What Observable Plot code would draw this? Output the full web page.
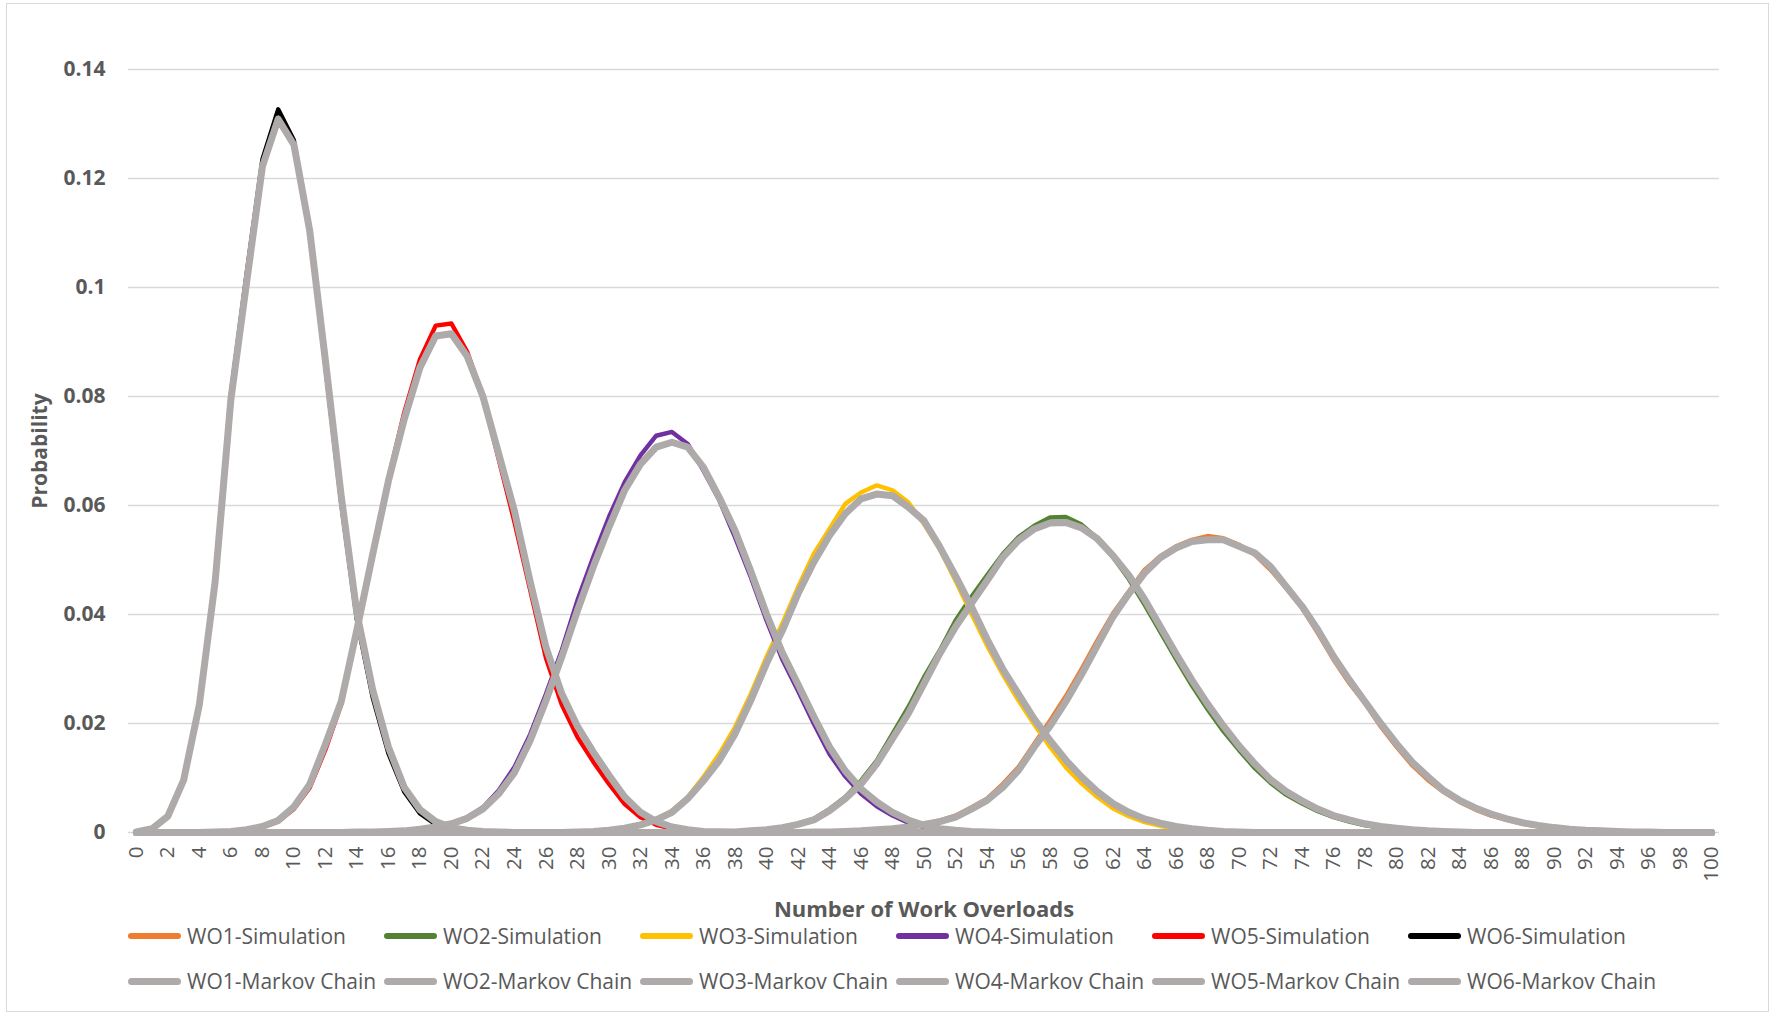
<!DOCTYPE html>
<html>
<head>
<meta charset="utf-8">
<script src="https://cdn.jsdelivr.net/npm/d3@7"></script>
<script src="https://cdn.jsdelivr.net/npm/@observablehq/plot@0.6"></script>
<style>
  html, body { margin: 0; padding: 0; background: #fff; }
  #chart { position: relative; width: 1771px; height: 1014px; overflow: hidden;
           font-family: 'Open Sans', sans-serif; color: #595959; }
  #frame { position: absolute; left: 6px; top: 3px; width: 1763px; height: 1009px;
           border: 1.5px solid #d9d9d9; box-sizing: border-box; }
  #plot { position: absolute; left: 0; top: 0; }
  .legend-item { position: absolute; display: flex; align-items: center; height: 30px;
                 font-size: 21px; white-space: nowrap; color: #595959; }
  .swatch { width: 53px; border-radius: 4px; margin-right: 6px; flex: none; }
</style>
</head>
<body>
<div id="chart">
  <div id="frame"></div>
  <div id="plot"></div>
  <div id="legend"></div>
</div>
<script>
// Number of work overloads (categories 0..100)
const xValues = [
  0,1,2,3,4,5,6,7,8,9,10,11,12,13,14,15,16,17,18,19,20,21,22,23,24,25,26,27,28,29,
  30,31,32,33,34,35,36,37,38,39,40,41,42,43,44,45,46,47,48,49,50,51,52,53,54,55,56,57,58,59,
  60,61,62,63,64,65,66,67,68,69,70,71,72,73,74,75,76,77,78,79,80,81,82,83,84,85,86,87,88,89,
  90,91,92,93,94,95,96,97,98,99,100
];
const xTicks = [0,2,4,6,8,10,12,14,16,18,20,22,24,26,28,30,32,34,36,38,40,42,44,46,48,50,
  52,54,56,58,60,62,64,66,68,70,72,74,76,78,80,82,84,86,88,90,92,94,96,98,100];
const yTicks = [0, 0.02, 0.04, 0.06, 0.08, 0.1, 0.12, 0.14];

// Probability per number of work overloads, ten values per row
const wo1Sim = [
  0,0,0,0,0,0,0,0,0,0,
  0,0,0,0,0,0,0,0,0,0,
  0,0,0,0,0,0,0,0,0,0,
  0,0,0,0,0,0,0,0,0,0,
  0,0,0,0.0001,0.0001,0.0002,0.0003,0.0005,0.0007,0.0011,
  0.0016,0.0022,0.0031,0.0046,0.0062,0.0089,0.012,0.0163,0.0205,0.025,
  0.03,0.0352,0.0402,0.0442,0.0482,0.0507,0.0525,0.0537,0.0544,0.054,
  0.0528,0.051,0.0482,0.0448,0.0412,0.0366,0.0317,0.0274,0.0237,0.0194,
  0.0157,0.0123,0.0096,0.0074,0.0056,0.0042,0.0031,0.0023,0.0016,0.0011,
  0.0008,0.0005,0.0004,0.0003,0.0002,0.0001,0.0001,0,0,0,
  0
];
const wo1Markov = [
  0,0,0,0,0,0,0,0,0,0,
  0,0,0,0,0,0,0,0,0,0,
  0,0,0,0,0,0,0,0,0,0,
  0,0,0,0,0,0,0,0,0,0,
  0,0,0,0.0001,0.0001,0.0002,0.0003,0.0005,0.0007,0.001,
  0.0015,0.002,0.0028,0.0043,0.0059,0.0083,0.0114,0.0157,0.0195,0.024,
  0.029,0.0343,0.0396,0.0438,0.0476,0.0504,0.0522,0.0534,0.0537,0.0537,
  0.0525,0.0513,0.0488,0.0451,0.0415,0.0372,0.0323,0.028,0.024,0.02,
  0.0163,0.0129,0.0102,0.0077,0.0059,0.0045,0.0034,0.0025,0.0018,0.0013,
  0.0009,0.0006,0.0004,0.0003,0.0002,0.0001,0.0001,0,0,0,
  0
];
const wo2Sim = [
  0,0,0,0,0,0,0,0,0,0,
  0,0,0,0,0,0,0,0,0,0,
  0,0,0,0,0,0,0,0,0,0,
  0,0,0,0,0,0,0,0.0001,0.0001,0.0003,
  0.0005,0.0009,0.0016,0.0025,0.0043,0.0065,0.0095,0.0132,0.0181,0.023,
  0.0285,0.0334,0.0389,0.0432,0.0472,0.0511,0.0542,0.0563,0.0578,0.0579,
  0.0565,0.054,0.0505,0.0465,0.0418,0.0368,0.0318,0.027,0.0226,0.0186,
  0.0151,0.0118,0.0091,0.0069,0.0053,0.0039,0.0028,0.002,0.0013,0.0009,
  0.0006,0.0004,0.0003,0.0002,0.0001,0,0,0,0,0,
  0,0,0,0,0,0,0,0,0,0,
  0
];
const wo2Markov = [
  0,0,0,0,0,0,0,0,0,0,
  0,0,0,0,0,0,0,0,0,0,
  0,0,0,0,0,0,0,0,0,0,
  0,0,0,0,0,0,0,0.0001,0.0001,0.0003,
  0.0005,0.0009,0.0015,0.0023,0.004,0.0062,0.0089,0.0126,0.0172,0.0218,
  0.0273,0.0328,0.0377,0.042,0.0462,0.0505,0.0536,0.0557,0.0568,0.0569,
  0.0559,0.0539,0.0508,0.0472,0.0428,0.0378,0.0328,0.028,0.0236,0.0196,
  0.0159,0.0126,0.0097,0.0075,0.0058,0.0043,0.0031,0.0023,0.0016,0.0011,
  0.0008,0.0005,0.0003,0.0002,0.0001,0,0,0,0,0,
  0,0,0,0,0,0,0,0,0,0,
  0
];
const wo3Sim = [
  0,0,0,0,0,0,0,0,0,0,
  0,0,0,0,0,0,0,0,0,0,
  0,0,0,0,0,0,0,0,0.0001,0.0002,
  0.0004,0.0008,0.0014,0.0024,0.004,0.0065,0.0102,0.0144,0.0193,0.0254,
  0.0322,0.0383,0.045,0.0511,0.0557,0.0603,0.0624,0.0637,0.0628,0.0606,
  0.0566,0.052,0.0462,0.0402,0.0343,0.029,0.0242,0.0198,0.0157,0.012,
  0.009,0.0065,0.0044,0.003,0.0019,0.0012,0.0007,0.0005,0.0003,0.0002,
  0.0001,0,0,0,0,0,0,0,0,0,
  0,0,0,0,0,0,0,0,0,0,
  0,0,0,0,0,0,0,0,0,0,
  0
];
const wo3Markov = [
  0,0,0,0,0,0,0,0,0,0,
  0,0,0,0,0,0,0,0,0,0,
  0,0,0,0,0,0,0,0,0.0001,0.0002,
  0.0004,0.0008,0.0014,0.0023,0.0037,0.0062,0.0095,0.0132,0.0181,0.0242,
  0.031,0.037,0.0438,0.0496,0.0545,0.0585,0.0612,0.0621,0.0618,0.0597,
  0.0572,0.0524,0.0471,0.0415,0.0355,0.03,0.0254,0.0208,0.0169,0.0133,
  0.0102,0.0075,0.0053,0.0037,0.0025,0.0017,0.0011,0.0007,0.0004,0.0002,
  0.0001,0,0,0,0,0,0,0,0,0,
  0,0,0,0,0,0,0,0,0,0,
  0,0,0,0,0,0,0,0,0,0,
  0
];
const wo4Sim = [
  0,0,0,0,0,0,0,0,0,0,
  0,0,0,0,0.0001,0.0001,0.0002,0.0003,0.0006,0.001,
  0.0017,0.0028,0.0046,0.0077,0.012,0.018,0.0254,0.0334,0.0426,0.0505,
  0.0579,0.0643,0.0692,0.0728,0.0735,0.0713,0.0664,0.061,0.0542,0.0469,
  0.0389,0.0318,0.026,0.02,0.0144,0.0103,0.0071,0.0048,0.0031,0.0018,
  0.001,0.0006,0.0003,0.0001,0,0,0,0,0,0,
  0,0,0,0,0,0,0,0,0,0,
  0,0,0,0,0,0,0,0,0,0,
  0,0,0,0,0,0,0,0,0,0,
  0,0,0,0,0,0,0,0,0,0,
  0
];
const wo4Markov = [
  0,0,0,0,0,0,0,0,0,0,
  0,0,0,0,0.0001,0.0001,0.0002,0.0003,0.0006,0.001,
  0.0016,0.0026,0.0043,0.0071,0.011,0.0169,0.0242,0.0322,0.0407,0.0487,
  0.056,0.0628,0.0676,0.0707,0.0716,0.0707,0.067,0.0615,0.0554,0.048,
  0.0401,0.033,0.0272,0.0213,0.0157,0.0113,0.008,0.0056,0.0037,0.0023,
  0.0013,0.0007,0.0004,0.0002,0.0001,0,0,0,0,0,
  0,0,0,0,0,0,0,0,0,0,
  0,0,0,0,0,0,0,0,0,0,
  0,0,0,0,0,0,0,0,0,0,
  0,0,0,0,0,0,0,0,0,0,
  0
];
const wo5Sim = [
  0,0,0,0,0,0.0001,0.0002,0.0004,0.001,0.002,
  0.0043,0.0082,0.0152,0.0235,0.0375,0.0515,0.065,0.077,0.0868,0.093,
  0.0934,0.0882,0.08,0.0685,0.057,0.0445,0.032,0.0235,0.0175,0.013,
  0.0089,0.0052,0.0028,0.0014,0.0007,0.0003,0.0001,0,0,0,
  0,0,0,0,0,0,0,0,0,0,
  0,0,0,0,0,0,0,0,0,0,
  0,0,0,0,0,0,0,0,0,0,
  0,0,0,0,0,0,0,0,0,0,
  0,0,0,0,0,0,0,0,0,0,
  0,0,0,0,0,0,0,0,0,0,
  0
];
const wo5Markov = [
  0,0,0,0,0,0.0001,0.0002,0.0005,0.0011,0.0022,
  0.0047,0.0088,0.0162,0.024,0.0372,0.051,0.0645,0.0758,0.0853,0.0911,
  0.0915,0.0874,0.08,0.0695,0.059,0.046,0.034,0.0255,0.0195,0.0148,
  0.0105,0.0065,0.0037,0.002,0.001,0.0005,0.0002,0.0001,0,0,
  0,0,0,0,0,0,0,0,0,0,
  0,0,0,0,0,0,0,0,0,0,
  0,0,0,0,0,0,0,0,0,0,
  0,0,0,0,0,0,0,0,0,0,
  0,0,0,0,0,0,0,0,0,0,
  0,0,0,0,0,0,0,0,0,0,
  0
];
const wo6Sim = [
  0.0001,0.0007,0.003,0.0095,0.0232,0.0458,0.0805,0.1025,0.1235,0.1327,
  0.127,0.11,0.0855,0.0605,0.039,0.0248,0.0145,0.0075,0.0035,0.0015,
  0.0006,0.0002,0.0001,0,0,0,0,0,0,0,
  0,0,0,0,0,0,0,0,0,0,
  0,0,0,0,0,0,0,0,0,0,
  0,0,0,0,0,0,0,0,0,0,
  0,0,0,0,0,0,0,0,0,0,
  0,0,0,0,0,0,0,0,0,0,
  0,0,0,0,0,0,0,0,0,0,
  0,0,0,0,0,0,0,0,0,0,
  0
];
const wo6Markov = [
  0.0001,0.0007,0.003,0.0096,0.0235,0.046,0.0795,0.101,0.1222,0.1309,
  0.1262,0.1105,0.0866,0.0618,0.0402,0.0262,0.0157,0.0083,0.0042,0.002,
  0.0009,0.0004,0.0002,0.0001,0,0,0,0,0,0,
  0,0,0,0,0,0,0,0,0,0,
  0,0,0,0,0,0,0,0,0,0,
  0,0,0,0,0,0,0,0,0,0,
  0,0,0,0,0,0,0,0,0,0,
  0,0,0,0,0,0,0,0,0,0,
  0,0,0,0,0,0,0,0,0,0,
  0,0,0,0,0,0,0,0,0,0,
  0
];

const simNames = ["WO1-Simulation","WO2-Simulation","WO3-Simulation","WO4-Simulation","WO5-Simulation","WO6-Simulation"];
const markovNames = ["WO1-Markov Chain","WO2-Markov Chain","WO3-Markov Chain","WO4-Markov Chain","WO5-Markov Chain","WO6-Markov Chain"];
const simColors = ["#ED7D31","#548235","#FFC000","#7030A0","#FF0000","#000000"];
const markovColor = "#AEAAAA";

const simSeries = [wo1Sim, wo2Sim, wo3Sim, wo4Sim, wo5Sim, wo6Sim];
const markovSeries = [wo1Markov, wo2Markov, wo3Markov, wo4Markov, wo5Markov, wo6Markov];

const toRows = (values, name) => values.map((v, i) => ({series: name, x: xValues[i], y: v}));

const simMarks = simSeries.map((vals, k) =>
  Plot.line(toRows(vals, simNames[k]), {x: "x", y: "y", stroke: simColors[k], strokeWidth: 4.4, strokeLinejoin: "round"}));
const markovMarks = markovSeries.map((vals, k) =>
  Plot.line(toRows(vals, markovNames[k]), {x: "x", y: "y", stroke: markovColor, strokeWidth: 7, strokeLinejoin: "round"}));

const W = 1771, H = 920;
const chart = Plot.plot({
  width: W,
  height: H,
  marginLeft: 128,
  marginRight: 52,
  marginTop: 69,
  marginBottom: 88,
  style: {fontFamily: "'Open Sans', sans-serif", color: "#595959", background: "transparent", overflow: "visible"},
  x: {type: "linear", domain: [-0.5, 100.5]},
  y: {domain: [0, 0.14]},
  marks: [
    Plot.gridY(yTicks, {stroke: "#d9d9d9", strokeOpacity: 1, strokeWidth: 1.4}),
    Plot.axisY(yTicks, {tickSize: 0, tickPadding: 23, fontSize: 21, fontWeight: "bold",
      tickFormat: d => String(+d.toFixed(2)), label: null}),
    Plot.axisX(xTicks, {tickSize: 0, tickPadding: 14, tickRotate: -90, fontSize: 20.5,
      tickFormat: d => String(d), label: null}),
    ...simMarks,
    ...markovMarks,
    Plot.text(["Number of Work Overloads"], {frameAnchor: "bottom", dy: 77, lineAnchor: "middle",
      fontSize: 22, fontWeight: "bold", fill: "#595959"}),
    Plot.text(["Probability"], {frameAnchor: "left", dx: -88, rotate: -90, textAnchor: "middle",
      lineAnchor: "middle", fontSize: 21, fontWeight: "bold", fill: "#595959"})
  ]
});
document.getElementById("plot").appendChild(chart);

// Legend: simulation series on the first row, Markov chain series on the second
const legend = document.getElementById("legend");
const rowsY = [936, 981];
[[simNames, simColors, 5.5], [markovNames, markovNames.map(() => markovColor), 7]].forEach(([names, colors, thick], r) => {
  names.forEach((name, k) => {
    const item = document.createElement("div");
    item.className = "legend-item";
    item.style.left = (128 + 256 * k) + "px";
    item.style.top = (rowsY[r] - 15) + "px";
    const sw = document.createElement("div");
    sw.className = "swatch";
    sw.style.height = thick + "px";
    sw.style.background = colors[k];
    const label = document.createElement("span");
    label.textContent = name;
    item.appendChild(sw);
    item.appendChild(label);
    legend.appendChild(item);
  });
});
</script>
</body>
</html>
